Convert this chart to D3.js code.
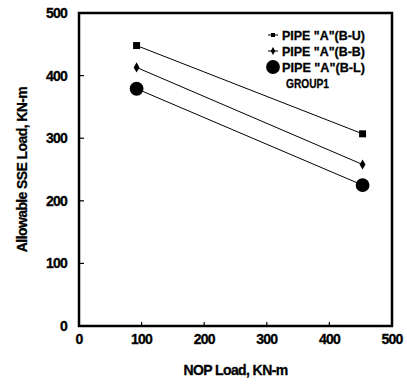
<!DOCTYPE html>
<html>
<head>
<meta charset="utf-8">
<script src="https://cdn.jsdelivr.net/npm/d3@7"></script>
<style>
  body { margin: 0; background: #fff; }
  text { font-family: "Liberation Sans", Arial, sans-serif; font-weight: bold; fill: #000; stroke: #000; stroke-width: 0.3; }
</style>
</head>
<body>
<script>
// values
var nopLoad = [92, 453];
var pipeBU = [448, 307];
var pipeBB = [413, 258];
var pipeBL = [379, 225];
var seriesNames = ['PIPE "A"(B-U)', 'PIPE "A"(B-B)', 'PIPE "A"(B-L)'];
var xTicks = [0, 100, 200, 300, 400, 500];
var yTicks = [0, 100, 200, 300, 400, 500];

var width = 407, height = 388;
var margin = {left: 79, right: 15, top: 13, bottom: 62};

var svg = d3.select('body').append('svg')
  .attr('width', width)
  .attr('height', height);

var x = d3.scaleLinear().domain([0, 500]).range([margin.left, width - margin.right]);
var y = d3.scaleLinear().domain([0, 500]).range([height - margin.bottom, margin.top]);

// frame
svg.append('rect')
  .attr('x', x(0)).attr('y', y(500))
  .attr('width', x(500) - x(0)).attr('height', y(0) - y(500))
  .attr('fill', 'none').attr('stroke', '#000').attr('stroke-width', 2.5);

// inward ticks
svg.append('g').selectAll('line').data(xTicks.slice(1, -1)).enter().append('line')
  .attr('x1', function(d) { return x(d); }).attr('x2', function(d) { return x(d); })
  .attr('y1', y(0)).attr('y2', y(0) - 4)
  .attr('stroke', '#000').attr('stroke-width', 1.2);
svg.append('g').selectAll('line').data(yTicks.slice(1, -1)).enter().append('line')
  .attr('y1', function(d) { return y(d); }).attr('y2', function(d) { return y(d); })
  .attr('x1', x(0)).attr('x2', x(0) + 5)
  .attr('stroke', '#000').attr('stroke-width', 1.2);

// tick labels
svg.append('g').selectAll('text').data(xTicks).enter().append('text')
  .attr('x', function(d) { return x(d); })
  .attr('y', y(0) + 18)
  .attr('text-anchor', 'middle')
  .attr('font-size', 14)
  .attr('letter-spacing', -0.8)
  .text(function(d) { return d; });
svg.append('g').selectAll('text').data(yTicks).enter().append('text')
  .attr('x', x(0) - 12)
  .attr('y', function(d) { return y(d) + 5; })
  .attr('text-anchor', 'end')
  .attr('font-size', 14)
  .attr('letter-spacing', -0.8)
  .text(function(d) { return d; });

// axis titles
svg.append('text')
  .attr('x', (x(0) + x(500)) / 2).attr('y', 375)
  .attr('text-anchor', 'middle').attr('font-size', 14).attr('letter-spacing', -0.6)
  .text('NOP Load, KN-m');
svg.append('text')
  .attr('transform', 'translate(27,' + (y(0) + y(500)) / 2 + ') rotate(-90)')
  .attr('text-anchor', 'middle').attr('font-size', 14).attr('letter-spacing', -0.6)
  .text('Allowable SSE Load, KN-m');

var series = [pipeBU, pipeBB, pipeBL];
var line = d3.line()
  .x(function(d, i) { return x(nopLoad[i]); })
  .y(function(d) { return y(d); });

var symbols = [
  d3.symbol().type(d3.symbolSquare).size(49),
  d3.symbol().type(d3.symbolDiamond).size(30),
  d3.symbol().type(d3.symbolCircle).size(150)
];

series.forEach(function(s, k) {
  svg.append('path').datum(s)
    .attr('d', line)
    .attr('fill', 'none').attr('stroke', '#000').attr('stroke-width', 1);
  svg.append('g').selectAll('path').data(s).enter().append('path')
    .attr('transform', function(d, i) { return 'translate(' + x(nopLoad[i]) + ',' + y(d) + ')'; })
    .attr('d', symbols[k]())
    .attr('fill', '#000');
});

// legend
var legendSymbols = [
  d3.symbol().type(d3.symbolSquare).size(16),
  d3.symbol().type(d3.symbolDiamond).size(18),
  d3.symbol().type(d3.symbolCircle).size(150)
];
var lg = svg.append('g').attr('transform', 'translate(273,35)');
seriesNames.forEach(function(name, k) {
  var row = lg.append('g').attr('transform', 'translate(0,' + k * 16 + ')');
  if (k < 2) {
    row.append('line').attr('x1', -5).attr('x2', 5).attr('y1', 0).attr('y2', 0)
      .attr('stroke', '#000').attr('stroke-width', 1);
  }
  row.append('path').attr('d', legendSymbols[k]()).attr('fill', '#000');
  row.append('text')
    .attr('x', 9).attr('y', 5)
    .attr('font-size', 13)
    .attr('textLength', 83).attr('lengthAdjust', 'spacingAndGlyphs')
    .text(name);
});
lg.append('text')
  .attr('x', 13).attr('y', 53)
  .attr('font-size', 13)
  .attr('textLength', 43).attr('lengthAdjust', 'spacingAndGlyphs')
  .text('GROUP1');
</script>
</body>
</html>
